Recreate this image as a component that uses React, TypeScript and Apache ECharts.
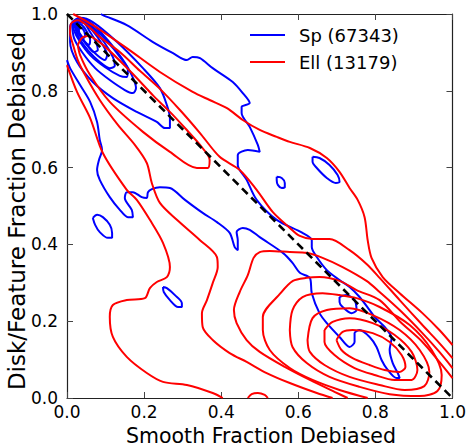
import React, { useEffect, useRef } from "react";
import * as echarts from "echarts";

// ---------- axis ticks ----------
const xTickValues = [0, 0.2, 0.4, 0.6, 0.8, 1.0];
const yTickValues = [0, 0.2, 0.4, 0.6, 0.8, 1.0];

// ---------- Sp (blue) contours, traced [smooth, disk] ----------
const spOuter = [
  [0, .880], [.008, .859], [.034, .815], [.060, .771], [.078, .719], [.085, .672], [.091, .646], [.083, .620],
  [.078, .594], [.085, .568], [.111, .523], [.137, .490], [.158, .471], [.171, .471], [.168, .490], [.150, .521],
  [.155, .536], [.171, .536], [.194, .523], [.207, .521], [.210, .536], [.220, .544], [.241, .549], [.267, .547],
  [.306, .516], [.352, .482], [.389, .458], [.422, .430], [.435, .393], [.443, .385], [.443, .411], [.440, .432],
  [.456, .443], [.474, .438], [.500, .419], [.560, .378], [.585, .352], [.604, .326], [.630, .313], [.635, .273],
  [.655, .221], [.674, .195], [.707, .159], [.733, .133], [.746, .146], [.746, .169], [.759, .177], [.785, .159],
  [.803, .133], [.816, .099], [.832, .073], [.855, .052], [.863, .052], [.858, .065], [.845, .091], [.837, .125],
  [.842, .156], [.824, .185], [.798, .211], [.785, .229], [.759, .263], [.733, .289], [.707, .307], [.674, .333],
  [.648, .367], [.635, .393], [.635, .411], [.611, .430], [.544, .464], [.492, .516], [.466, .568], [.443, .607],
  [.443, .633], [.469, .646], [.500, .641], [.495, .659], [.474, .706], [.453, .742], [.453, .758], [.474, .768],
  [.456, .794], [.430, .823], [.378, .859], [.345, .885], [.326, .888], [.311, .880], [.275, .898], [.223, .927],
  [.155, .971], [.093, .997], [.088, 1.0],
];
const spIsland1 = [[.067, .469], [.078, .477], [.093, .471], [.111, .451], [.117, .430], [.117, .417], [.106, .417], [.085, .432], [.073, .451], [.067, .469]];
const spIsland2 = [[.249, .289], [.259, .286], [.280, .268], [.298, .247], [.298, .237], [.288, .237], [.267, .255], [.251, .276], [.249, .289]];
const spIsland3 = [[.544, .576], [.557, .573], [.565, .560], [.565, .549], [.557, .547], [.547, .555], [.544, .568], [.544, .576]];
const spIsland4 = [[.637, .628], [.655, .625], [.681, .607], [.702, .581], [.707, .563], [.697, .560], [.674, .573], [.648, .599], [.637, .615], [.637, .628]];
const spIsland5 = [[.707, .263], [.725, .268], [.746, .255], [.751, .229], [.738, .221], [.715, .237], [.707, .250], [.707, .263]];
const spPeak2 = [[.008, .971], [.034, .990], [.067, .979], [.130, .927], [.197, .859], [.241, .807], [.259, .763], [.267, .729], [.267, .703], [.254, .703], [.233, .719], [.181, .745], [.119, .781], [.067, .823], [.026, .875], [.008, .927], [.008, .971]];
const spPeak3 = [[.013, .979], [.034, .990], [.065, .974], [.106, .932], [.142, .885], [.168, .841], [.179, .807], [.171, .794], [.150, .802], [.111, .828], [.073, .859], [.039, .901], [.018, .938], [.013, .979]];
const spPeak4 = [[.016, .979], [.039, .987], [.067, .966], [.106, .927], [.137, .888], [.158, .854], [.155, .836], [.137, .839], [.098, .862], [.060, .893], [.034, .927], [.018, .958], [.016, .979]];
const spPeak5 = [[.018, .979], [.039, .984], [.065, .964], [.096, .927], [.119, .888], [.124, .865], [.111, .859], [.085, .875], [.054, .906], [.031, .938], [.021, .964], [.018, .979]];
const spPeak6 = [[.021, .979], [.041, .982], [.065, .958], [.091, .922], [.104, .893], [.098, .880], [.080, .891], [.054, .917], [.034, .945], [.023, .966], [.021, .979]];
const spPeak7 = [[.023, .977], [.041, .977], [.060, .953], [.075, .927], [.080, .906], [.070, .901], [.052, .919], [.034, .943], [.026, .961], [.023, .977]];
const spPeak8 = [[.026, .974], [.039, .971], [.052, .953], [.060, .932], [.057, .919], [.047, .927], [.034, .945], [.026, .961], [.026, .974]];
const spPeak9 = [[.031, .966], [.041, .961], [.047, .945], [.044, .938], [.036, .945], [.031, .956], [.031, .966]];

// ---------- Ell (red) contours ----------
const ellUpper1 = [
  [.016, 1.0], [.067, .971], [.155, .911], [.241, .849], [.326, .797], [.370, .776], [.415, .755], [.456, .724],
  [.500, .698], [.544, .680], [.578, .667], [.630, .651], [.674, .625], [.707, .589], [.733, .547], [.754, .516],
  [.772, .471], [.780, .411], [.790, .365], [.819, .315], [.863, .273], [.922, .221], [.966, .177], [1.0, .138],
];
const ellLower1 = [
  [0, .867], [.026, .797], [.060, .729], [.093, .638], [.155, .542], [.181, .516], [.215, .464], [.249, .404],
  [.267, .341], [.259, .315], [.233, .302], [.215, .286], [.202, .260], [.155, .255], [.119, .242], [.111, .211],
  [.119, .159], [.155, .107], [.207, .065], [.249, .042], [.311, .034], [.378, .013], [.404, 0],
];
const ellBlob1 = [[.469, 0], [.479, .010], [.495, .013], [.513, .008], [.521, 0]];
const ellLevel2 = [
  [1.0, .104], [.966, .143], [.922, .190], [.863, .255], [.811, .313], [.777, .349], [.733, .385], [.681, .414],
  [.637, .414], [.604, .422], [.578, .443], [.534, .484], [.492, .542], [.448, .594], [.396, .628], [.345, .690],
  [.293, .750], [.241, .805], [.189, .852], [.137, .901], [.085, .940], [.054, .969], [.028, .984], [.010, .974],
  [.008, .951], [.016, .919], [.028, .880], [.047, .841], [.085, .776], [.132, .711], [.176, .659], [.207, .612],
  [.220, .560], [.241, .508], [.285, .464], [.345, .411], [.389, .367], [.391, .341], [.378, .299], [.363, .255],
  [.350, .221], [.352, .185], [.378, .151], [.422, .117], [.466, .094], [.518, .065], [.578, .039], [.648, .013],
  [.689, 0],
];
const ellTopLeft3 = [[.028, .919], [.039, .938], [.054, .943], [.096, .917], [.166, .849], [.225, .786], [.267, .745], [.306, .703], [.345, .659], [.370, .620], [.365, .599], [.337, .599], [.267, .641], [.197, .693], [.111, .771], [.060, .841], [.034, .893], [.028, .919]];
const ellLevel3 = [
  [1.0, .078], [.966, .120], [.922, .169], [.863, .229], [.811, .276], [.777, .305], [.715, .341], [.663, .365],
  [.622, .378], [.578, .380], [.526, .383], [.500, .380], [.484, .365], [.469, .320], [.448, .276], [.433, .229],
  [.440, .195], [.466, .151], [.500, .120], [.565, .081], [.630, .047], [.694, .016], [.728, 0],
];
const ellLevel4 = [
  [1.0, .052], [.966, .094], [.922, .146], [.863, .200], [.811, .255], [.751, .281], [.707, .305], [.655, .315],
  [.622, .313], [.586, .305], [.554, .273], [.508, .211], [.508, .177], [.526, .125], [.578, .078], [.637, .047],
  [.707, .021], [.780, 0],
];
const ellLevel5 = [[.578, .177], [.585, .229], [.611, .263], [.663, .273], [.707, .268], [.751, .260], [.811, .237], [.889, .190], [.946, .125], [.972, .060], [.961, .018], [.915, .005], [.837, .010], [.759, .029], [.681, .055], [.622, .091], [.585, .133], [.578, .177]];
const ellLevel6 = [[.624, .151], [.637, .208], [.674, .229], [.733, .234], [.793, .216], [.863, .177], [.915, .125], [.940, .068], [.927, .031], [.876, .021], [.811, .034], [.733, .055], [.668, .086], [.630, .120], [.624, .151]];
const ellLevel7 = [[.668, .177], [.689, .198], [.733, .208], [.793, .195], [.850, .164], [.894, .120], [.909, .073], [.894, .047], [.850, .047], [.798, .060], [.746, .078], [.694, .112], [.668, .146], [.668, .177]];
const ellLevel8 = [[.699, .151], [.715, .172], [.741, .177], [.793, .169], [.837, .146], [.868, .112], [.878, .081], [.863, .068], [.824, .073], [.785, .086], [.741, .104], [.712, .125], [.699, .151]];

const diagonal = [[0, 1], [1, 0]];

const spSet = [spOuter, spIsland1, spIsland2, spIsland3, spIsland4, spIsland5, spPeak2, spPeak3, spPeak4, spPeak5, spPeak6, spPeak7, spPeak8, spPeak9];
const ellSet = [ellUpper1, ellLower1, ellBlob1, ellLevel2, ellTopLeft3, ellLevel3, ellLevel4, ellLevel5, ellLevel6, ellLevel7, ellLevel8];

const legendItems = [
  { label: "Sp (67343)", color: "#0000ff" },
  { label: "Ell (13179)", color: "#ff0000" },
];

const FONT = "DejaVu Sans";

export default function App() {
  const ref = useRef<HTMLDivElement>(null);
  useEffect(() => {
    if (!ref.current) return;
    const chart = echarts.init(ref.current, undefined, { renderer: "svg" });
    const mkLine = (pts: number[][], color: string, z: number) => ({
      type: "line",
      data: pts,
      showSymbol: false,
      symbol: "none",
      smooth: 0.3,
      silent: true,
      clip: true,
      z,
      lineStyle: { color, width: 2 },
    });
    const series: any[] = [];
    spSet.forEach((c) => series.push(mkLine(c, "#0000ff", 2)));
    ellSet.forEach((c) => series.push(mkLine(c, "#ff0000", 3)));
    series.push({
      type: "line",
      data: diagonal,
      showSymbol: false,
      symbol: "none",
      silent: true,
      z: 4,
      lineStyle: { color: "#000", width: 2.6, type: [8, 5] },
    });
    const tickAxis = (pos: string, labels: boolean) => ({
      type: "value",
      position: pos,
      min: 0,
      max: 1,
      interval: 0.2,
      splitLine: { show: false },
      axisLine: { show: true, onZero: false, lineStyle: { color: "#222", width: 1.2 } },
      axisTick: { show: true, inside: true, length: 6, lineStyle: { color: "#444", width: 1 } },
      axisLabel: {
        show: labels,
        fontSize: 17,
        fontFamily: FONT,
        color: "#000",
        margin: pos === "bottom" ? 5 : 9,
        formatter: (v: number) => v.toFixed(1),
      },
    });
    const graphics: any[] = [];
    legendItems.forEach((it, i) => {
      const y = 35 + i * 27;
      graphics.push({ type: "line", shape: { x1: 250, y1: y, x2: 285, y2: y }, style: { stroke: it.color, lineWidth: 2 } });
      graphics.push({ type: "text", x: 299, y, style: { text: it.label, fontSize: 18, fontFamily: FONT, fill: "#000", textVerticalAlign: "middle" } });
    });
    graphics.push({ type: "text", x: 261, y: 436, style: { text: "Smooth Fraction Debiased", fontSize: 20.5, fontFamily: FONT, fill: "#000", textAlign: "center", textVerticalAlign: "middle" } });
    graphics.push({ type: "text", x: 17, y: 211, rotation: Math.PI / 2, style: { text: "Disk/Feature Fraction Debiased", fontSize: 23, fontFamily: FONT, fill: "#000", textAlign: "center", textVerticalAlign: "middle" } });

    chart.setOption({
      animation: false,
      grid: { left: 67, top: 14, width: 386, height: 384, show: false },
      xAxis: [tickAxis("bottom", true), tickAxis("top", false)],
      yAxis: [tickAxis("left", true), tickAxis("right", false)],
      series,
      graphic: graphics,
    });
    return () => chart.dispose();
  }, []);
  return <div ref={ref} style={{ position: "fixed", left: 0, top: 0, width: 469, height: 448, background: "#fff" }} />;
}
